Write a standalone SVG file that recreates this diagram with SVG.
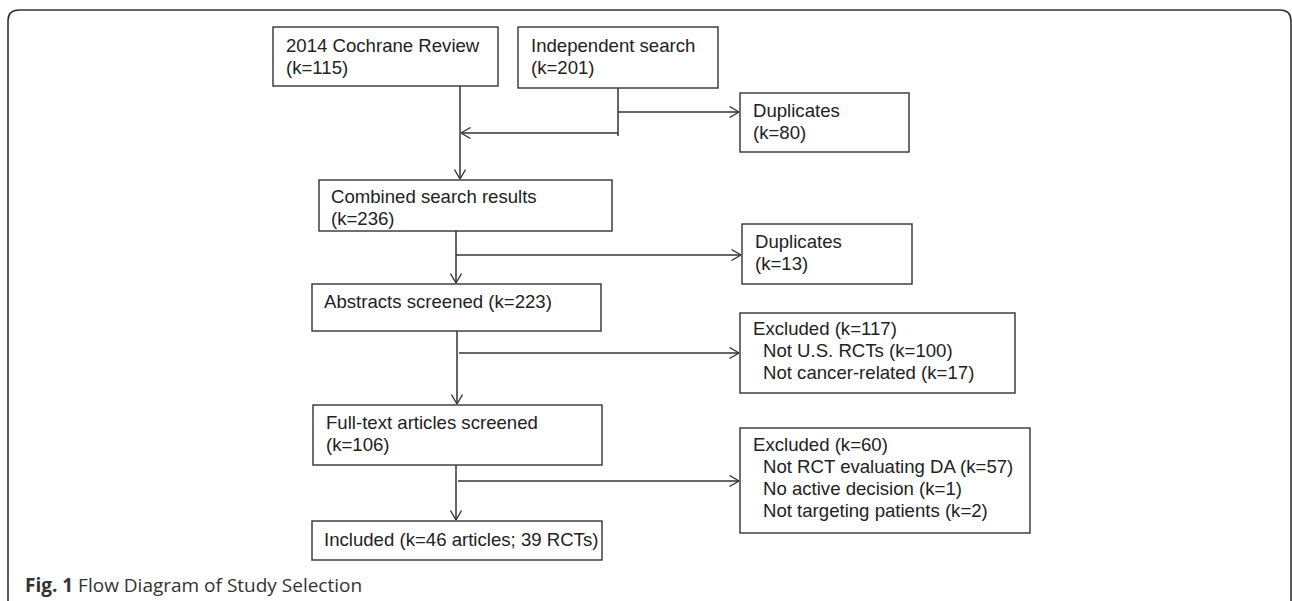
<svg xmlns="http://www.w3.org/2000/svg" width="1292" height="601" viewBox="0 0 1292 601">
<defs>
<marker id="arr" viewBox="0 0 10 12" refX="10" refY="6" markerWidth="10" markerHeight="12" markerUnits="userSpaceOnUse" orient="auto">
<path d="M0.5,0.5 L10,6 L0.5,11.5" fill="none" stroke="#333" stroke-width="1.3"/>
</marker>
</defs>
<style>
.box{fill:#fff;stroke:#333;stroke-width:1.4}
.t{font-family:"Liberation Sans",Arial,sans-serif;font-size:18.6px;fill:#222}
.ln{fill:none;stroke:#333;stroke-width:1.5}
.cap{font-family:"Open Sans",sans-serif;font-size:19px;fill:#333}
</style>
<rect width="1292" height="601" fill="#fff"/>
<path d="M8,601 V21 Q8,10 19,10 H1280 Q1291,10 1291,21 V601" fill="none" stroke="#333" stroke-width="1.6"/>

<g id="cochrane">
<rect class="box" x="273" y="27" width="225" height="59"/>
<text class="t" x="286" y="52">2014 Cochrane Review</text>
<text class="t" x="286" y="74">(k=115)</text>
</g>
<g id="independent">
<rect class="box" x="518" y="27" width="200" height="61"/>
<text class="t" x="531" y="52">Independent search</text>
<text class="t" x="531" y="74">(k=201)</text>
</g>
<g id="dup80">
<rect class="box" x="740" y="93" width="169" height="59"/>
<text class="t" x="753" y="117">Duplicates</text>
<text class="t" x="753" y="139">(k=80)</text>
</g>
<g id="combined">
<rect class="box" x="319" y="180" width="293" height="51"/>
<text class="t" x="331" y="203">Combined search results</text>
<text class="t" x="331" y="225">(k=236)</text>
</g>
<g id="dup13">
<rect class="box" x="742" y="224" width="170" height="60"/>
<text class="t" x="755" y="248">Duplicates</text>
<text class="t" x="755" y="270">(k=13)</text>
</g>
<g id="abstracts">
<rect class="box" x="312" y="284" width="289" height="47"/>
<text class="t" x="324" y="308">Abstracts screened (k=223)</text>
</g>
<g id="excluded117">
<rect class="box" x="740" y="313" width="275" height="80"/>
<text class="t" x="753" y="335">Excluded (k=117)</text>
<text class="t" x="763" y="357">Not U.S. RCTs (k=100)</text>
<text class="t" x="763" y="379">Not cancer-related (k=17)</text>
</g>
<g id="fulltext">
<rect class="box" x="313" y="405" width="289" height="60"/>
<text class="t" x="326" y="429">Full-text articles screened</text>
<text class="t" x="326" y="451">(k=106)</text>
</g>
<g id="excluded60">
<rect class="box" x="740" y="428" width="290" height="105"/>
<text class="t" x="753" y="451">Excluded (k=60)</text>
<text class="t" x="763" y="473">Not RCT evaluating DA (k=57)</text>
<text class="t" x="763" y="495">No active decision (k=1)</text>
<text class="t" x="763" y="517">Not targeting patients (k=2)</text>
</g>
<g id="included">
<rect class="box" x="312" y="521" width="290" height="39"/>
<text class="t" x="324" y="546">Included (k=46 articles; 39 RCTs)</text>
</g>

<g id="connectors">
<path class="ln" d="M460,86 V179" marker-end="url(#arr)"/>
<path class="ln" d="M618,88 V136"/>
<path class="ln" d="M618,112 H739" marker-end="url(#arr)"/>
<path class="ln" d="M618,133 H461" marker-end="url(#arr)"/>
<path class="ln" d="M456,231 V283" marker-end="url(#arr)"/>
<path class="ln" d="M456,255 H741" marker-end="url(#arr)"/>
<path class="ln" d="M457,331 V404" marker-end="url(#arr)"/>
<path class="ln" d="M459,353 H739" marker-end="url(#arr)"/>
<path class="ln" d="M456,465 V520" marker-end="url(#arr)"/>
<path class="ln" d="M458,481 H739" marker-end="url(#arr)"/>
</g>

<text class="cap" x="25" y="592"><tspan font-weight="bold">Fig. 1</tspan> Flow Diagram of Study Selection</text>
</svg>
